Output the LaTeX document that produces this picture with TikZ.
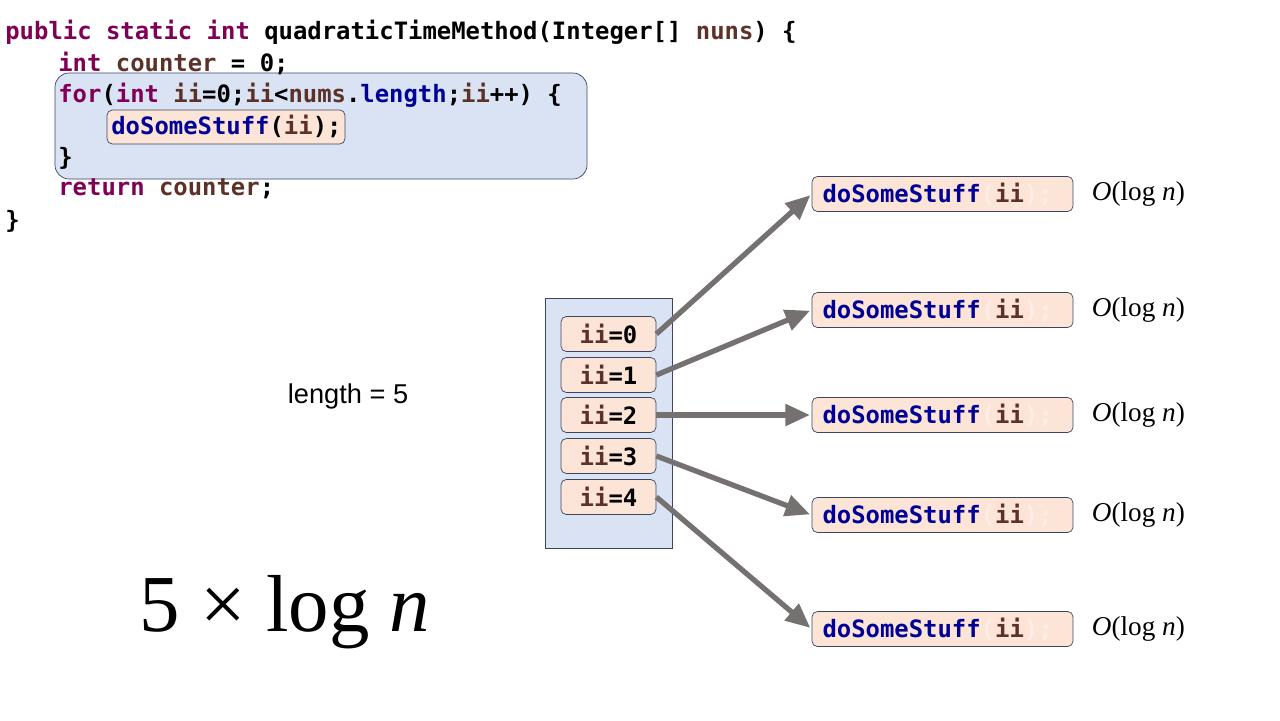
\documentclass[tikz,border=0pt]{standalone}
\usepackage{fontspec}
\setmainfont{Liberation Sans}
\setmonofont{DejaVu Sans Mono}
\newfontfamily\mathserif{Liberation Serif}
\usetikzlibrary{arrows.meta,positioning}
\definecolor{kwc}{RGB}{127,0,85}
\definecolor{idc}{RGB}{92,50,40}
\definecolor{fnc}{RGB}{0,0,150}
\definecolor{loopfill}{RGB}{218,227,243}
\definecolor{callfill}{RGB}{252,228,214}
\definecolor{edgec}{RGB}{60,70,100}
\definecolor{arrowc}{RGB}{118,113,113}
\definecolor{fadec}{RGB}{252,238,230}
\newcommand{\kw}[1]{\textcolor{kwc}{#1}}
\newcommand{\id}[1]{\textcolor{idc}{#1}}
\newcommand{\fn}[1]{\textcolor{fnc}{#1}}
\newcommand{\fd}[1]{\textcolor{fadec}{#1}}
\tikzset{
  code/.style={anchor=west,inner sep=0pt,font=\ttfamily\bfseries\fontsize{13.6}{15}\selectfont},
  loopbox/.style={draw=edgec,fill=loopfill,rounded corners=8pt},
  callbox/.style={draw=edgec,fill=callfill,rounded corners=3pt,minimum height=0.7cm,inner sep=2pt,font=\ttfamily\bfseries\fontsize{13.6}{15}\selectfont},
  iterarrow/.style={->,>={Triangle[length=14pt,width=12pt]},draw=arrowc,line width=3pt,shorten >=1pt}
}
\begin{document}
\begin{tikzpicture}[x=0.02cm,y=-0.02cm]
\useasboundingbox (0,0) rectangle (1280,720);
% loop block behind the code
\draw [loopbox] (55,73) rectangle (587,179);
\draw [callbox] (107,110) rectangle (345,144);
% code lines
\node [code] (l1) at (5,32) {\kw{public static int} quadraticTimeMethod(Integer[] \id{nuns}) \{};
\node [code] (l2) at (58,63) {\kw{int} \id{counter} = 0;};
\node [code] (l3) at (58,95) {\kw{for}(\kw{int} \id{ii}=0;\id{ii}<\id{nums}.\fn{length};\id{ii}++) \{};
\node [code] (l4) at (111,126) {\fn{doSomeStuff}(\id{ii});};
\node [code] (l5) at (58,158) {\}};
\node [code] (l6) at (58,189) {\kw{return} \id{counter};};
\node [code] (l7) at (5,221) {\}};
% length note
\node [font=\fontsize{15.5}{18}\selectfont] (len) at (348,396) {length = 5};
% total cost
\node [font=\mathserif\fontsize{46}{52}\selectfont] (total) at (285,612) {5 × log \textit{n}};
% iterations
\draw [fill=loopfill,draw=edgec] (545,298) rectangle (672,548);
\foreach \k/\y in {0/334,1/375,2/415,3/456,4/497}
  \node [callbox,minimum width=1.9cm] (i\k) at (608.5,\y) {\id{ii}=\k};
% calls
\foreach \k/\y in {0/194,1/310,2/415,3/515,4/629} {
  \node [callbox,minimum width=5.22cm,text width=4.8cm] (d\k) at (942.5,\y) {\fn{doSomeStuff}\fd{(}\id{ii}\fd{);}};
  \node [font=\mathserif\fontsize{15.5}{18}\selectfont,right=7pt of d\k] (o\k) {\textit{O}(log \textit{n})};
  \draw [iterarrow] (i\k.east) -- (d\k.west);
}
\end{tikzpicture}
\end{document}
